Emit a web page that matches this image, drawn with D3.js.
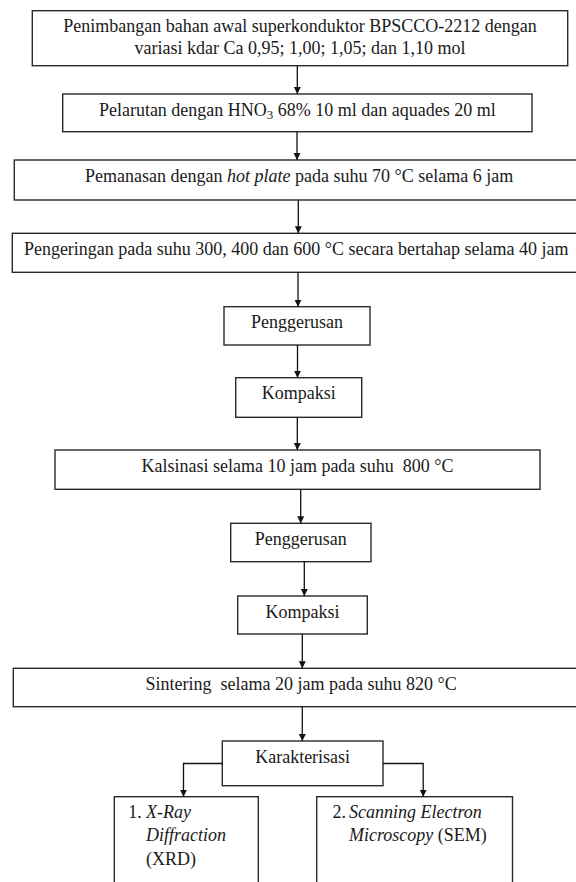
<!DOCTYPE html>
<html>
<head>
<meta charset="utf-8">
<script src="https://cdn.jsdelivr.net/npm/d3@7"></script>
</head>
<body style="margin:0;background:#fff">
<script>
// ---- content ----
const stepIds = ["s1","s2","s3","s4","s5","s6","s7","s8","s9","s10","s11","x1","x2"];
// each label: array of lines, each line array of [text, style] runs (style: n=normal, i=italic, sub=subscript)
const stepLabels = [
  [[["Penimbangan bahan awal superkonduktor BPSCCO-2212 dengan","n"]],
   [["variasi kdar Ca 0,95; 1,00; 1,05; dan 1,10 mol","n"]]],
  [[["Pelarutan dengan HNO","n"],["3","sub"],[" 68% 10 ml dan aquades 20 ml","n"]]],
  [[["Pemanasan dengan ","n"],["hot plate","i"],[" pada suhu 70 °C selama 6 jam","n"]]],
  [[["Pengeringan pada suhu 300, 400 dan 600 °C secara bertahap selama 40 jam","n"]]],
  [[["Penggerusan","n"]]],
  [[["Kompaksi","n"]]],
  [[["Kalsinasi selama 10 jam pada suhu \u00A0800 °C","n"]]],
  [[["Penggerusan","n"]]],
  [[["Kompaksi","n"]]],
  [[["Sintering \u00A0selama 20 jam pada suhu 820 °C","n"]]],
  [[["Karakterisasi","n"]]],
  [[["X-Ray","i"]],[["Diffraction","i"]],[["(XRD)","n"]]],
  [[["Scanning Electron","i"]],[["Microscopy","i"],[" (SEM)","n"]]]
];
const listNumbers = ["1.", "2."];
const flowLinks = [
  ["s1","s2"],["s2","s3"],["s3","s4"],["s4","s5"],["s5","s6"],["s6","s7"],
  ["s7","s8"],["s8","s9"],["s9","s10"],["s10","s11"]
];
const branchLinks = [["s11","x1"],["s11","x2"]];

// ---- layout (page geometry) ----
const W = 576, H = 882;
const boxGeom = {
  s1:  [32.3, 10.7, 567.7, 65.7],
  s2:  [62.7, 94, 532, 131.7],
  s3:  [14.3, 160, 584, 200],
  s4:  [12.3, 233.3, 580, 272.3],
  s5:  [224, 306.7, 370, 345],
  s6:  [235.7, 377.7, 361.7, 417.3],
  s7:  [55, 450, 540, 489.3],
  s8:  [230.7, 523.3, 371, 561.7],
  s9:  [237.7, 596, 367.3, 634],
  s10: [13.3, 668.3, 589, 706.7],
  s11: [222.3, 741, 383, 785.7],
  x1:  [114.3, 796.7, 258.3, 905],
  x2:  [316.7, 796.7, 512.5, 905]
};
const arrowX = [297.3, 297, 298.3, 298, 297.5, 297.3, 300.7, 304.3, 302.3, 302.3];
const branchGeom = { x1: {x: 183.5, y: 763.5}, x2: {x: 423.2, y: 763.5} };
const listGeom = { x1: {nx: 128.3, tx: 146}, x2: {nx: 332.5, tx: 349} };
const FS = 18, LH = 21.6, TOP_PAD = 21.5, LIST_LH = 23.2, LIST_TOP = 21.5;

const svg = d3.select("body").append("svg").attr("width", W).attr("height", H)
  .style("display","block");

const defs = svg.append("defs");
defs.append("marker").attr("id","ah").attr("viewBox","0 0 10 10")
  .attr("refX",10).attr("refY",5).attr("markerUnits","userSpaceOnUse")
  .attr("markerWidth",7).attr("markerHeight",8.5).attr("orient","auto")
  .append("path").attr("d","M0,0 L10,5 L0,10 Z").attr("fill","#111");

const data = stepIds.map((id,i)=>({id, label: stepLabels[i], g: boxGeom[id]}));

// boxes
svg.selectAll("rect.box").data(data).join("rect").attr("class","box")
  .attr("x", d=>d.g[0]).attr("y", d=>d.g[1])
  .attr("width", d=>d.g[2]-d.g[0]).attr("height", d=>d.g[3]-d.g[1])
  .attr("fill","#fff").attr("stroke","#2a2a2a").attr("stroke-width",1.4);

function serif(sel){
  return sel.style("font-family", '"Liberation Serif"').attr("font-family", "Liberation Serif");
}
function makeText(x, y, anchor){
  return serif(svg.append("text")).attr("x", x).attr("y", y)
    .attr("text-anchor", anchor).style("font-size", FS + "px")
    .attr("fill", "#1a1a1a");
}
function addRuns(textSel, runs){
  let lowered = false;
  runs.forEach(([t,s])=>{
    const ts = serif(textSel.append("tspan")).text(t);
    if (s==="i") ts.style("font-style","italic");
    if (s==="sub") { ts.style("font-size", (FS*0.72)+"px").attr("dy", 3.5); lowered = true; }
    else if (lowered) { ts.attr("dy", -3.5); lowered = false; }
  });
}

// centered labels
data.filter(d=>!listGeom[d.id]).forEach(d=>{
  const cx = (d.g[0]+d.g[2])/2;
  d.label.forEach((line,li)=>{
    addRuns(makeText(cx, d.g[1]+TOP_PAD+li*LH, "middle"), line);
  });
});

// list labels
data.filter(d=>listGeom[d.id]).forEach((d,k)=>{
  const lg = listGeom[d.id];
  makeText(lg.nx, d.g[1]+LIST_TOP, "start").text(listNumbers[k]);
  d.label.forEach((line,li)=>{
    addRuns(makeText(lg.tx, d.g[1]+LIST_TOP+li*LIST_LH, "start"), line);
  });
});

// vertical arrows
svg.selectAll("line.flow").data(flowLinks).join("line").attr("class","flow")
  .attr("x1",(d,i)=>arrowX[i]).attr("x2",(d,i)=>arrowX[i])
  .attr("y1", d=>boxGeom[d[0]][3]).attr("y2", d=>boxGeom[d[1]][1])
  .attr("stroke","#111").attr("stroke-width",1.3).attr("marker-end","url(#ah)");

// branch arrows
svg.selectAll("path.branch").data(branchLinks).join("path").attr("class","branch")
  .attr("d", d=>{
    const src = boxGeom[d[0]], b = branchGeom[d[1]], dst = boxGeom[d[1]];
    const sx = b.x < (src[0]+src[2])/2 ? src[0] : src[2];
    return `M${sx},${b.y} H${b.x} V${dst[1]}`;
  })
  .attr("fill","none").attr("stroke","#111").attr("stroke-width",1.3).attr("marker-end","url(#ah)");
</script>
</body>
</html>
